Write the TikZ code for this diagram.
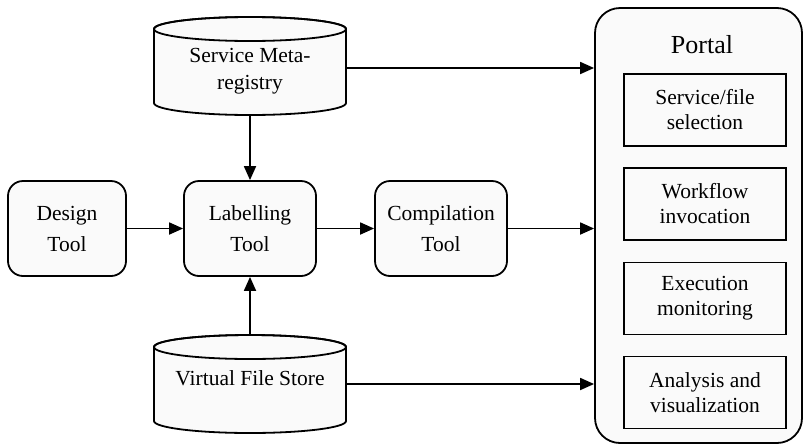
\documentclass[tikz,border=0pt]{standalone}
\usepackage{fontspec}
\setmainfont{Liberation Serif}
\usetikzlibrary{arrows.meta}
\begin{document}
\begin{tikzpicture}[x=1pt,y=1pt,
  line width=1.8pt,
  tool/.style={draw, rounded corners=15pt, minimum width=#1, minimum height=95pt, align=center, fill=white!98!black, font=\fontsize{21.5}{31}\selectfont},
  pbox/.style={draw, minimum width=162pt, minimum height=72pt, align=center, font=\fontsize{21.5}{25}\selectfont},
  ghost/.style={minimum width=192pt, minimum height=98pt, inner sep=0pt},
  ctext/.style={align=center, font=\fontsize{21.5}{27}\selectfont},
  arr/.style={-{Triangle[length=14pt,width=12pt]}},
  cyl/.style={draw, fill=white!98!black}
]
\useasboundingbox (0,0) rectangle (803,-445);

% Portal
\node[draw, rounded corners=25pt, minimum width=207pt, minimum height=435pt, fill=white!98!black] (portal) at (698.5,-225.5) {};
\node[font=\fontsize{26}{30}\selectfont] (ptitle) at (702,-45) {Portal};
\node[pbox] (p1) at (705,-110) {Service/file\\selection};
\node[pbox] (p2) at (705,-204) {Workflow\\invocation};
\node[pbox] (p3) at (705,-298.5) {Execution\\monitoring};
\node[pbox] (p4) at (705,-392.5) {Analysis and\\visualization};

% tools
\node[tool=118pt] (design) at (67,-228.5) {Design\\Tool};
\node[tool=132pt] (label) at (250,-228.5) {Labelling\\Tool};
\node[tool=132pt] (comp) at (441,-228.5) {Compilation\\Tool};

% Meta-registry cylinder
\node[ghost] (meta) at (250,-66) {};
\path[cyl] (154,-29) -- (154,-103) arc[start angle=180,end angle=360,x radius=96,y radius=12]
  -- (346,-29) arc[start angle=0,end angle=180,x radius=96,y radius=12] -- cycle;
\draw (250,-29) ellipse[x radius=96, y radius=12];
\node[ctext] (metatext) at (250,-71) {Service Meta-\\registry};

% Virtual file store cylinder
\node[ghost] (vfs) at (250,-384) {};
\path[cyl] (154,-347) -- (154,-421) arc[start angle=180,end angle=360,x radius=96,y radius=12]
  -- (346,-347) arc[start angle=0,end angle=180,x radius=96,y radius=12] -- cycle;
\draw (250,-347) ellipse[x radius=96, y radius=12];
\node[ctext] (vfstext) at (250,-378) {Virtual File Store};

% connectors
\draw[arr] (design.east) -- (label.west);
\draw[arr] (label.east) -- (comp.west);
\draw[arr] (comp.east) -- (comp.east -| portal.west);
\draw[arr] ([yshift=-2pt]meta.east) -- ([yshift=-2pt]meta.east -| portal.west);
\draw[arr] (vfs.east) -- (vfs.east -| portal.west);
\draw[arr] (meta.south) -- (label.north);
\draw[arr] (vfs.north) -- (label.south);
\end{tikzpicture}
\end{document}
